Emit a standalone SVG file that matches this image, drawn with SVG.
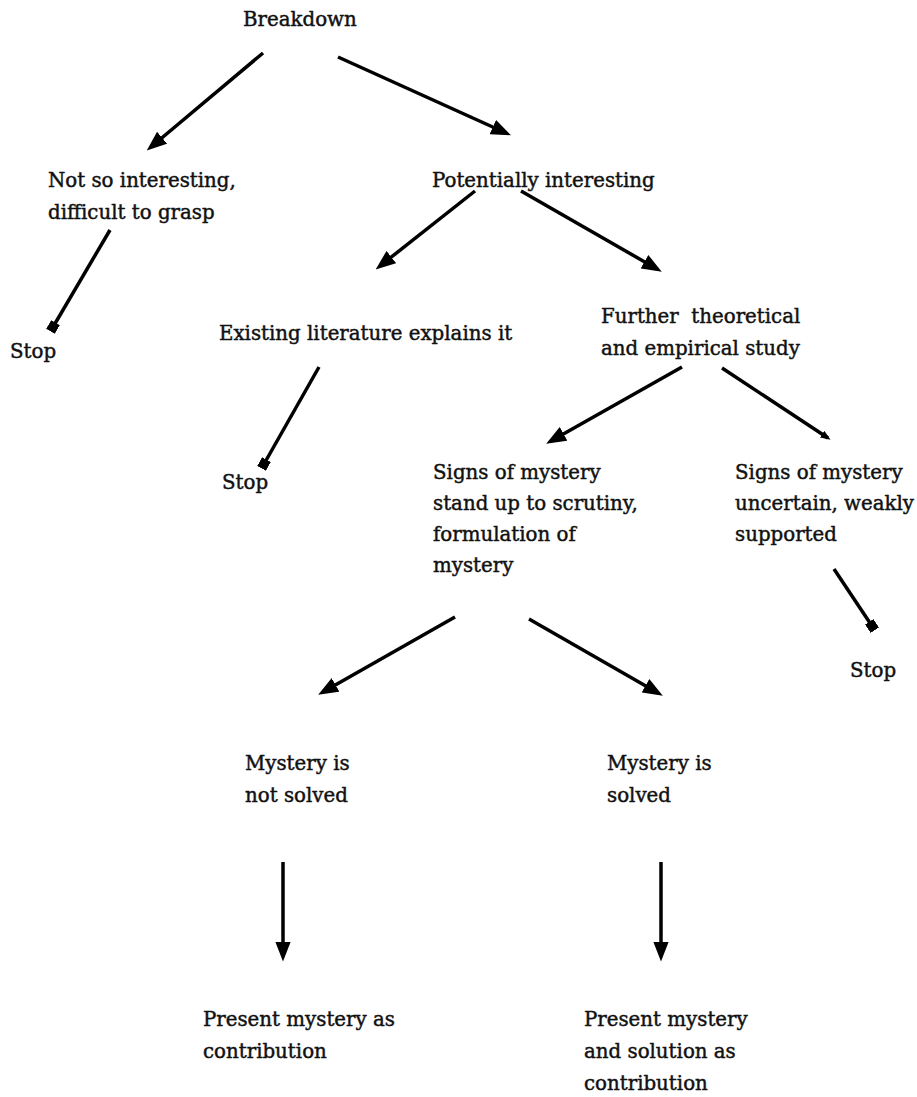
<svg xmlns="http://www.w3.org/2000/svg" width="917" height="1097" viewBox="0 0 917 1097">
<style>
text{font-family:"DejaVu Serif","Liberation Serif",serif;font-size:19.8px;fill:#111;stroke:#111;stroke-width:0.45}
.c{stroke:#000;stroke-width:3.5;fill:none}
.a{marker-end:url(#ah)}
.s{marker-end:url(#sq)}
</style>
<defs>
<marker id="ah" markerUnits="userSpaceOnUse" markerWidth="20" markerHeight="16" viewBox="0 0 18 14" refX="13" refY="7" orient="auto"><path d="M0,0 L18,7 L0,14 z" fill="#000"/></marker>
<marker id="ahs" markerUnits="userSpaceOnUse" markerWidth="10" markerHeight="8" viewBox="0 0 10 8" refX="7" refY="4" orient="auto"><path d="M0,0 L10,4 L0,8 z" fill="#000"/></marker>
<marker id="sq" markerUnits="userSpaceOnUse" markerWidth="10" markerHeight="10" viewBox="0 0 10 10" refX="5" refY="5" orient="auto"><rect x="0" y="0" width="10" height="10" fill="#000"/></marker>
</defs>
<g id="connectors">
<line class="c a" x1="263" y1="53" x2="151" y2="147"/>
<line class="c a" x1="338" y1="57" x2="506" y2="133"/>
<line class="c a" x1="475" y1="191" x2="380" y2="266"/>
<line class="c a" x1="521" y1="191" x2="657" y2="269"/>
<line class="c a" x1="682" y1="367" x2="551" y2="441"/>
<line class="c" x1="722" y1="368" x2="828" y2="438" marker-end="url(#ahs)"/>
<line class="c a" x1="455" y1="617" x2="323" y2="692"/>
<line class="c a" x1="529" y1="619" x2="658" y2="693"/>
<line class="c a" x1="283" y1="862" x2="283" y2="956"/>
<line class="c a" x1="661" y1="862" x2="661" y2="956"/>
<line class="c s" x1="110" y1="230" x2="53" y2="327"/>
<line class="c s" x1="319" y1="367" x2="264" y2="464"/>
<line class="c s" x1="834" y1="569" x2="872" y2="626"/>
</g>
<g id="breakdown"><text x="243" y="26">Breakdown</text></g>
<g id="not-interesting"><text x="48" y="187">Not so interesting,</text><text x="48" y="219">difficult to grasp</text></g>
<g id="potentially"><text x="432" y="187">Potentially interesting</text></g>
<g id="stop1"><text x="10" y="358">Stop</text></g>
<g id="existing"><text x="219" y="340">Existing literature explains it</text></g>
<g id="further"><text x="601" y="323">Further&#160; theoretical</text><text x="601" y="355">and empirical study</text></g>
<g id="stop2"><text x="222" y="489">Stop</text></g>
<g id="signs-stand"><text x="433" y="479">Signs of mystery</text><text x="433" y="510">stand up to scrutiny,</text><text x="433" y="541">formulation of</text><text x="433" y="572">mystery</text></g>
<g id="signs-uncertain"><text x="735" y="479">Signs of mystery</text><text x="735" y="510">uncertain, weakly</text><text x="735" y="541">supported</text></g>
<g id="stop3"><text x="850" y="677">Stop</text></g>
<g id="not-solved"><text x="245" y="770">Mystery is</text><text x="245" y="802">not solved</text></g>
<g id="solved"><text x="607" y="770">Mystery is</text><text x="607" y="802">solved</text></g>
<g id="present1"><text x="203" y="1026">Present mystery as</text><text x="203" y="1058">contribution</text></g>
<g id="present2"><text x="584" y="1026">Present mystery</text><text x="584" y="1058">and solution as</text><text x="584" y="1090">contribution</text></g>
</svg>
